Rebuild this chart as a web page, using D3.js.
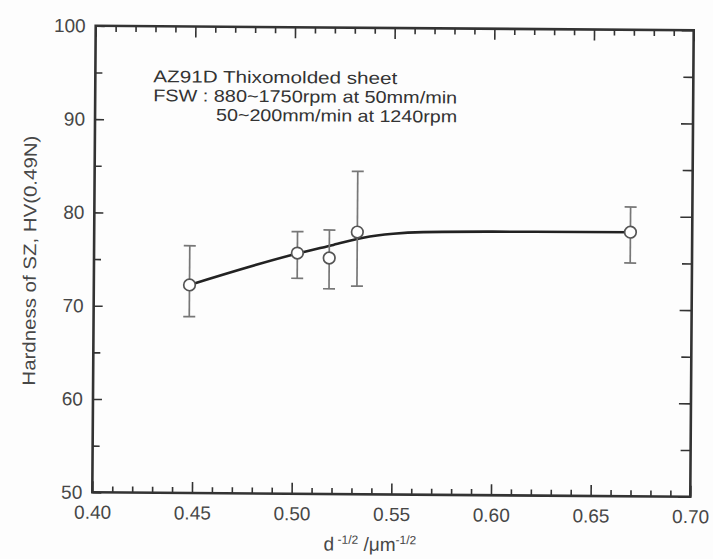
<!DOCTYPE html>
<html>
<head>
<meta charset="utf-8">
<script src="https://cdn.jsdelivr.net/npm/d3@7"></script>
<style>
  html, body { margin: 0; padding: 0; background: #fdfdfd; }
  svg { display: block; font-family: "Liberation Sans", Arial, Helvetica, sans-serif; }
</style>
</head>
<body>
<svg id="chart" width="713" height="559"></svg>
<script>
// Measured grain size parameter d^-1/2 and stir-zone hardness
const grainParam = [0.448, 0.502, 0.518, 0.532, 0.669];
const hardness   = [72.3, 75.8, 75.3, 78.1, 78.3];
const errLow     = [68.9, 73.1, 72.0, 72.3, 75.0];
const errHigh    = [76.5, 78.1, 78.3, 84.6, 81.0];

// Trend line drawn through the data
const trendX = [0.448, 0.502, 0.52, 0.535, 0.55, 0.565, 0.60, 0.669];
const trendY = [72.3, 75.75, 76.7, 77.5, 77.95, 78.15, 78.25, 78.3];

// Axis ticks
const xTicks = [0.40, 0.45, 0.50, 0.55, 0.60, 0.65, 0.70];
const yTicks = [50, 60, 70, 80, 90, 100];

const annotation = [
  "AZ91D Thixomolded sheet",
  "FSW : 880~1750rpm at 50mm/min",
  "50~200mm/min at 1240rpm"
];

const svg = d3.select("#chart");
const m = { left: 94, right: 692, top: 28, bottom: 494.5 };

// whole figure sits at a slight clockwise tilt
const root = svg.append("g").attr("transform", "rotate(0.42 393 261)");

const x = d3.scaleLinear().domain([0.40, 0.70]).range([m.left, m.right]);
const y = d3.scaleLinear().domain([50, 100]).range([m.bottom, m.top]);

const ink = "#333";
const fmt = d3.format(".2f");

// Minor tick values
const xMinor = d3.range(0, 31).map(i => 0.40 + i * 0.01).filter(v => Math.abs(Math.round(v * 20) - v * 20) > 1e-6);
const yMinor = [55, 65, 75, 85, 95];

function styleAxis(g) {
  g.select(".domain").remove();
  g.selectAll("line").attr("stroke", ink).attr("stroke-width", 1.6);
  g.selectAll("text").attr("fill", "#474747").attr("font-size", 19);
}

// Bottom axis (labels + inward ticks)
root.append("g").attr("transform", `translate(0,${m.bottom})`)
  .call(d3.axisBottom(x).tickValues(xTicks).tickFormat(fmt).tickSizeInner(-11).tickSizeOuter(0).tickPadding(13))
  .call(styleAxis);
root.append("g").attr("transform", `translate(0,${m.bottom})`)
  .call(d3.axisBottom(x).tickValues(xMinor).tickFormat("").tickSizeInner(-6).tickSizeOuter(0))
  .call(styleAxis);

// Top axis (inward ticks only)
root.append("g").attr("transform", `translate(0,${m.top})`)
  .call(d3.axisTop(x).tickValues(xTicks).tickFormat("").tickSizeInner(-11).tickSizeOuter(0))
  .call(styleAxis);
root.append("g").attr("transform", `translate(0,${m.top})`)
  .call(d3.axisTop(x).tickValues(xMinor).tickFormat("").tickSizeInner(-6).tickSizeOuter(0))
  .call(styleAxis);

// Left axis
root.append("g").attr("transform", `translate(${m.left},0)`)
  .call(d3.axisLeft(y).tickValues(yTicks).tickFormat(d3.format("d")).tickSizeInner(-9).tickSizeOuter(0).tickPadding(10))
  .call(styleAxis);
root.append("g").attr("transform", `translate(${m.left},0)`)
  .call(d3.axisLeft(y).tickValues(yMinor).tickFormat("").tickSizeInner(-7).tickSizeOuter(0))
  .call(styleAxis);

// Right axis
root.append("g").attr("transform", `translate(${m.right},0)`)
  .call(d3.axisRight(y).tickValues(yTicks).tickFormat("").tickSizeInner(-12).tickSizeOuter(0))
  .call(styleAxis);
root.append("g").attr("transform", `translate(${m.right},0)`)
  .call(d3.axisRight(y).tickValues(yMinor).tickFormat("").tickSizeInner(-10).tickSizeOuter(0))
  .call(styleAxis);

// Plot frame
root.append("rect")
  .attr("x", m.left).attr("y", m.top)
  .attr("width", m.right - m.left).attr("height", m.bottom - m.top)
  .attr("fill", "none").attr("stroke", ink).attr("stroke-width", 2.6);

// Trend curve
const trend = trendX.map((v, i) => [v, trendY[i]]);
root.append("path")
  .datum(trend)
  .attr("fill", "none").attr("stroke", "#222").attr("stroke-width", 2.6)
  .attr("d", d3.line().x(d => x(d[0])).y(d => y(d[1])).curve(d3.curveMonotoneX));

// Error bars
const pts = grainParam.map((v, i) => ({ x: v, y: hardness[i], lo: errLow[i], hi: errHigh[i] }));
const eb = root.append("g").attr("stroke", "#777").attr("stroke-width", 1.7);
const capW = 6;
pts.forEach(p => {
  eb.append("line").attr("x1", x(p.x)).attr("x2", x(p.x)).attr("y1", y(p.lo)).attr("y2", y(p.hi));
  eb.append("line").attr("x1", x(p.x) - capW).attr("x2", x(p.x) + capW).attr("y1", y(p.lo)).attr("y2", y(p.lo));
  eb.append("line").attr("x1", x(p.x) - capW).attr("x2", x(p.x) + capW).attr("y1", y(p.hi)).attr("y2", y(p.hi));
});

// Markers
root.append("g").selectAll("circle").data(pts).join("circle")
  .attr("cx", d => x(d.x)).attr("cy", d => y(d.y)).attr("r", 5.8)
  .attr("fill", "#fff").attr("stroke", "#555").attr("stroke-width", 1.7);

// Annotation
const ann = root.append("g").attr("fill", "#333").attr("font-size", 17);
ann.append("text").attr("x", 152).attr("y", 84).attr("textLength", 244).attr("lengthAdjust", "spacingAndGlyphs").text(annotation[0]);
ann.append("text").attr("x", 152).attr("y", 103).attr("textLength", 304).attr("lengthAdjust", "spacingAndGlyphs").text(annotation[1]);
ann.append("text").attr("x", 215).attr("y", 122).attr("textLength", 241).attr("lengthAdjust", "spacingAndGlyphs").text(annotation[2]);

// Axis titles
root.append("text")
  .attr("transform", `translate(36,${(m.top + m.bottom) / 2 + 2}) rotate(-90)`)
  .attr("text-anchor", "middle").attr("fill", "#474747").attr("font-size", 18)
  .attr("textLength", 250).attr("lengthAdjust", "spacingAndGlyphs")
  .text("Hardness of SZ, HV(0.49N)");

const xt = root.append("text")
  .attr("x", 372).attr("y", 551)
  .attr("text-anchor", "middle").attr("fill", "#474747").attr("font-size", 19);
xt.append("tspan").text("d");
xt.append("tspan").attr("dy", -7).attr("font-size", 12).text(" -1/2");
xt.append("tspan").attr("dy", 7).text(" /\u03bcm");
xt.append("tspan").attr("dy", -7).attr("font-size", 12).text("-1/2");
</script>
</body>
</html>
